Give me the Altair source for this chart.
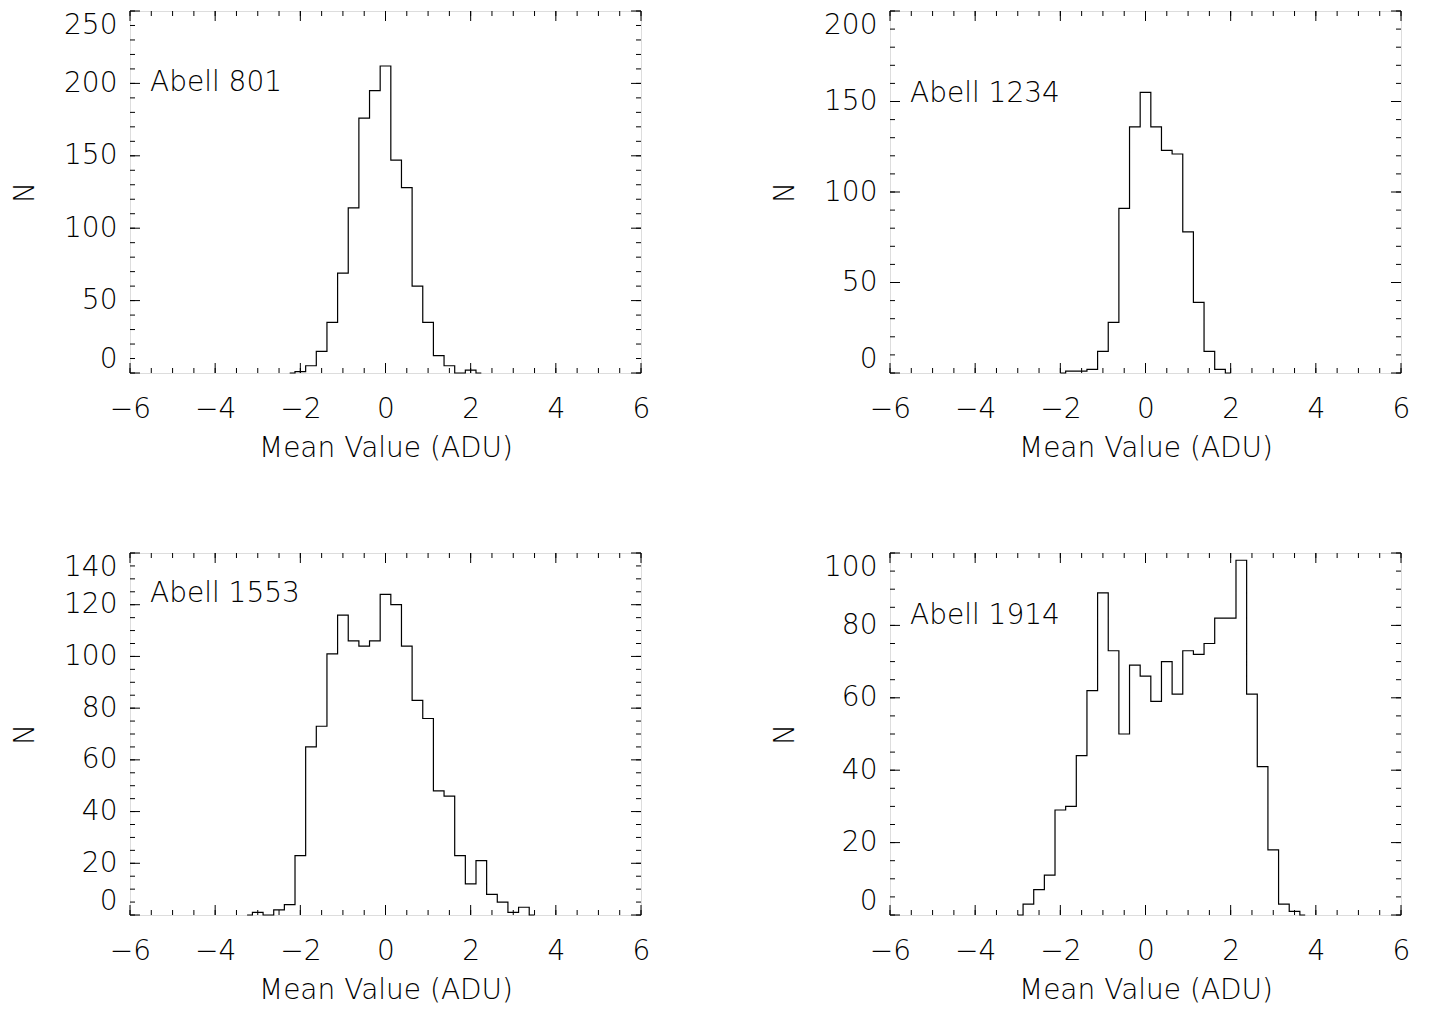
import altair as alt
import pandas as pd

FONT = "DejaVu Sans"
FW = 200
FS = 28
W, H = 511, 362

# ---- data (bin centres in ADU, counts per bin) ----
names = ["Abell 801", "Abell 1234", "Abell 1553", "Abell 1914"]

centers_801 = [-2.25, -2.0, -1.75, -1.5, -1.25, -1.0, -0.75, -0.5, -0.25, 0.0,
               0.25, 0.5, 0.75, 1.0, 1.25, 1.5, 1.75, 2.0, 2.25]
counts_801 = [0, 1, 5, 15, 35, 69, 114, 176, 195, 212,
              147, 128, 60, 35, 12, 5, 0, 2, 0]

centers_1234 = [-2.0, -1.75, -1.5, -1.25, -1.0, -0.75, -0.5, -0.25, 0.0,
                0.25, 0.5, 0.75, 1.0, 1.25, 1.5, 1.75, 2.0]
counts_1234 = [0, 1, 1, 2, 12, 28, 91, 136, 155,
               136, 123, 121, 78, 39, 12, 2, 0]

centers_1553 = [-3.25, -3.0, -2.75, -2.5, -2.25, -2.0, -1.75, -1.5, -1.25, -1.0,
                -0.75, -0.5, -0.25, 0.0, 0.25, 0.5, 0.75, 1.0, 1.25, 1.5,
                1.75, 2.0, 2.25, 2.5, 2.75, 3.0, 3.25, 3.5]
counts_1553 = [0, 1, 0, 2, 4, 23, 65, 73, 101, 116,
               106, 104, 106, 124, 120, 104, 83, 76, 48, 46,
               23, 12, 21, 8, 5, 1, 3, 0]

centers_1914 = [-3.0, -2.75, -2.5, -2.25, -2.0, -1.75, -1.5, -1.25, -1.0, -0.75,
                -0.5, -0.25, 0.0, 0.25, 0.5, 0.75, 1.0, 1.25, 1.5, 1.75,
                2.0, 2.25, 2.5, 2.75, 3.0, 3.25, 3.5, 3.75]
counts_1914 = [0, 3, 7, 11, 29, 30, 44, 62, 89, 73,
               50, 69, 66, 59, 70, 61, 73, 72, 75, 82,
               82, 98, 61, 41, 18, 3, 1, 0]

all_centers = [centers_801, centers_1234, centers_1553, centers_1914]
all_counts = [counts_801, counts_1234, counts_1553, counts_1914]

# ---- axes / ticks ----
x_major = [-6, -4, -2, 0, 2, 4, 6]
x_minor = [-6 + 0.5 * i for i in range(25)]
y_max = [250, 200, 140, 100]
y_major = [[0, 50, 100, 150, 200, 250],
           [0, 50, 100, 150, 200],
           [0, 20, 40, 60, 80, 100, 120, 140],
           [0, 20, 40, 60, 80, 100]]
y_minor = [list(range(0, 251, 10)),
           list(range(0, 201, 10)),
           list(range(0, 141, 5)),
           list(range(0, 101, 5))]
label_xy = [(20, 72), (20, 83), (20, 41), (20, 63)]

MAJ, MIN = 10, 5


def panel(i):
    xs = alt.Scale(domain=[-6, 6], nice=False, zero=False)
    ys = alt.Scale(domain=[0, y_max[i]], nice=False, zero=False)
    xa = alt.Axis(title="Mean Value (ADU)", values=x_major, ticks=False, tickSize=0,
                  domain=False, grid=False, labelFlush=False, labelPadding=22,
                  labelFont=FONT, labelFontSize=FS, labelFontWeight=FW, labelColor="black",
                  titleFont=FONT, titleFontSize=FS, titleFontWeight=FW,
                  titleColor="black", titlePadding=11)
    ya = alt.Axis(title="N", values=y_major[i], ticks=False, tickSize=0,
                  domain=False, grid=False, labelFlush=True, labelPadding=13,
                  minExtent=68, maxExtent=68,
                  labelFont=FONT, labelFontSize=FS, labelFontWeight=FW, labelColor="black",
                  titleFont=FONT, titleFontSize=FS, titleFontWeight=FW,
                  titleColor="black", titlePadding=23)

    df = pd.DataFrame({"x": all_centers[i], "y": all_counts[i]})
    line = alt.Chart(df).mark_line(interpolate="step", color="black", strokeWidth=1.2).encode(
        x=alt.X("x:Q", scale=xs, axis=xa),
        y=alt.Y("y:Q", scale=ys, axis=ya),
    )

    layers = [line]
    for vals, ln in ((x_minor, MIN), (x_major, MAJ)):
        d = pd.DataFrame({"x": vals})
        layers.append(alt.Chart(d).mark_rule(color="black", strokeWidth=1).encode(
            x=alt.X("x:Q", scale=xs, axis=xa), y=alt.value(H), y2=alt.value(H - ln)))
        layers.append(alt.Chart(d).mark_rule(color="black", strokeWidth=1).encode(
            x=alt.X("x:Q", scale=xs, axis=xa), y=alt.value(0), y2=alt.value(ln)))
    for vals, ln in ((y_minor[i], MIN), (y_major[i], MAJ)):
        d = pd.DataFrame({"y": vals})
        layers.append(alt.Chart(d).mark_rule(color="black", strokeWidth=1).encode(
            y=alt.Y("y:Q", scale=ys, axis=ya), x=alt.value(0), x2=alt.value(ln)))
        layers.append(alt.Chart(d).mark_rule(color="black", strokeWidth=1).encode(
            y=alt.Y("y:Q", scale=ys, axis=ya), x=alt.value(W), x2=alt.value(W - ln)))

    tx, ty = label_xy[i]
    label = alt.Chart(pd.DataFrame({"name": [names[i]]})).mark_text(
        align="left", baseline="middle", font=FONT, fontSize=FS, fontWeight=FW, color="black"
    ).encode(text="name:N", x=alt.value(tx), y=alt.value(ty))
    layers.append(label)

    return alt.layer(*layers).properties(width=W, height=H)


row1 = alt.hconcat(panel(0), panel(1), spacing=119)
row2 = alt.hconcat(panel(2), panel(3), spacing=119)
chart = alt.vconcat(row1, row2, spacing=89).properties(
    padding={"left": 2, "top": 2, "right": 5, "bottom": 5}
).configure_view(stroke="black", strokeWidth=1).configure(background="white")

chart.save("out.html", embed_options={"renderer": "svg", "actions": False})
